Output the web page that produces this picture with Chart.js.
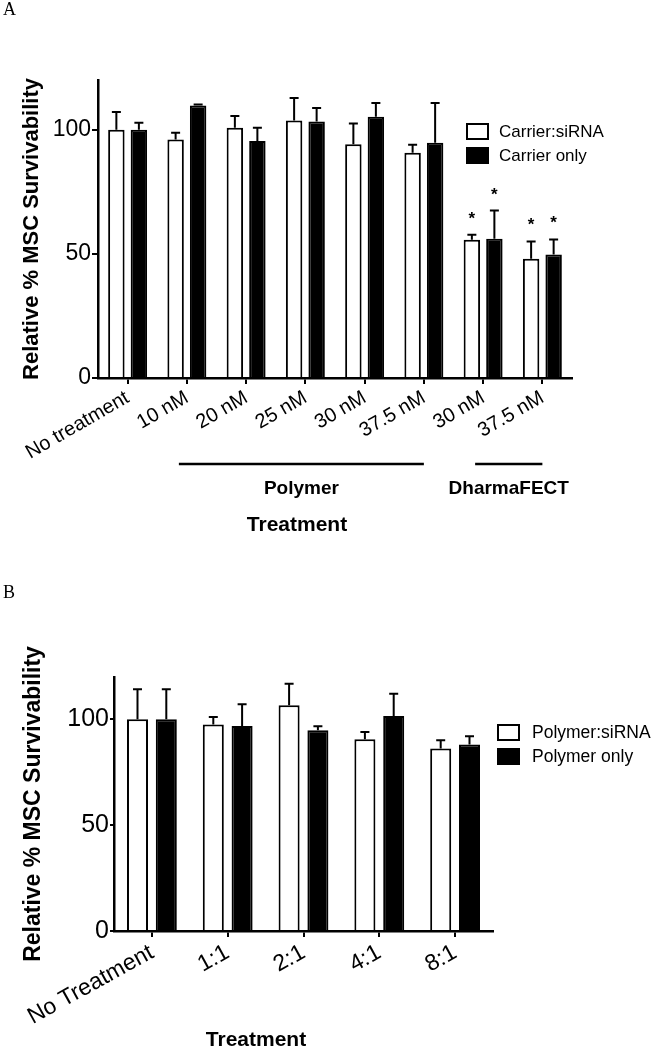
<!DOCTYPE html>
<html><head><meta charset="utf-8">
<script src="https://cdn.jsdelivr.net/npm/chart.js@4.4.1/dist/chart.umd.min.js"></script>
<style>
html,body{margin:0;padding:0;background:#fff;width:651px;height:1050px;overflow:hidden;}
#wrapA{position:absolute;left:0;top:0;width:651px;height:545px;}
#wrapB{position:absolute;left:0;top:560px;width:651px;height:490px;}
canvas{display:block;}
</style></head><body>
<div id="wrapA"><canvas id="cA" width="651" height="545"></canvas></div>
<div id="wrapB"><canvas id="cB" width="651" height="490"></canvas></div>
<script>
// ---------- Panel A data ----------
const categoriesA = ['No treatment','10 nM','20 nM','25 nM','30 nM','37.5 nM','30 nM','37.5 nM'];
const seriesNamesA = ['Carrier:siRNA','Carrier only'];
const carrierSiRNAMeanA = [100, 96, 100.8, 103.7, 94.1, 90.7, 55.7, 48];
const carrierSiRNASdA   = [7.1, 2.8, 4.7, 9.1, 8.4, 3.2, 2.0, 7.0];
const carrierOnlyMeanA  = [100, 109.7, 95.4, 103.3, 105.2, 94.7, 56.1, 49.7];
const carrierOnlySdA    = [2.8, 0.4, 5.4, 5.4, 5.5, 16.0, 11.3, 6.1];
const carrierSiRNAStarA = [0,0,0,0,0,0,1,1];
const carrierOnlyStarA  = [0,0,0,0,0,0,1,1];
const groupNamesA = ['Polymer','DharmaFECT'];
const groupStartA = [1, 6];
const groupEndA   = [5, 7];
const yTicksA = [0, 50, 100];

// ---------- Panel B data ----------
const categoriesB = ['No Treatment','1:1','2:1','4:1','8:1'];
const seriesNamesB = ['Polymer:siRNA','Polymer only'];
const polymerSiRNAMeanB = [100, 97.6, 106.6, 90.6, 86.2];
const polymerSiRNASdB   = [14.2, 3.5, 10.2, 3.4, 3.9];
const polymerOnlyMeanB  = [100, 96.8, 94.8, 101.6, 88.1];
const polymerOnlySdB    = [14.2, 10.3, 1.9, 10.5, 3.9];
const yTicksB = [0, 50, 100];

const FONT = "'Liberation Sans', Arial, Helvetica, sans-serif";

const decor = {
  id: 'decor',
  afterDatasetsDraw(chart, args, opts) {
    const ctx = chart.ctx;
    const ys = chart.scales.y;
    ctx.save();
    ctx.strokeStyle = '#000';
    ctx.fillStyle = '#000';
    ctx.lineWidth = 2;
    chart.data.datasets.forEach((ds, i) => {
      const meta = chart.getDatasetMeta(i);
      meta.data.forEach((el, j) => {
        const top = ys.getPixelForValue(ds.data[j] + ds.sd[j]);
        const base = ys.getPixelForValue(ds.data[j]);
        ctx.beginPath();
        ctx.moveTo(el.x, base);
        ctx.lineTo(el.x, top);
        ctx.moveTo(el.x - 4.5, top);
        ctx.lineTo(el.x + 4.5, top);
        ctx.stroke();
        if (ds.stars && ds.stars[j]) {
          ctx.font = 'bold 17px ' + FONT;
          ctx.textAlign = 'center';
          ctx.textBaseline = 'alphabetic';
          ctx.fillText('*', el.x, top - 11);
        }
      });
    });
    ctx.restore();
  },
  afterDraw(chart, args, opts) {
    const ctx = chart.ctx;
    const xs = chart.scales.x;
    ctx.save();
    ctx.fillStyle = '#000';
    ctx.strokeStyle = '#000';
    ctx.font = "18px 'Liberation Serif', 'Times New Roman', serif";
    ctx.textAlign = 'left';
    ctx.textBaseline = 'alphabetic';
    ctx.fillText(opts.letter, 3, opts.letterY);
    chart.data.datasets.forEach((ds, i) => {
      const bx = opts.legendX, by = opts.legendY + i * opts.legendGap;
      ctx.fillStyle = ds.backgroundColor;
      ctx.fillRect(bx, by, 23, 17);
      ctx.lineWidth = 2;
      ctx.strokeStyle = '#000';
      ctx.strokeRect(bx + 1, by + 1, 21, 15);
      ctx.fillStyle = '#000';
      ctx.font = opts.legendFont + 'px ' + FONT;
      ctx.textAlign = 'left';
      ctx.textBaseline = 'middle';
      ctx.fillText(ds.label, opts.legendTextX, by + 9);
    });
    if (opts.groups) {
      opts.groups.names.forEach((name, k) => {
        const x1 = xs.getPixelForValue(opts.groups.start[k]) - 8;
        const x2 = xs.getPixelForValue(opts.groups.end[k]);
        ctx.lineWidth = 2.5;
        ctx.beginPath();
        ctx.moveTo(x1, opts.groups.lineY);
        ctx.lineTo(x2, opts.groups.lineY);
        ctx.stroke();
        ctx.font = 'bold 19px ' + FONT;
        ctx.textAlign = 'center';
        ctx.textBaseline = 'middle';
        ctx.fillText(name, (x1 + x2) / 2, opts.groups.labelY);
      });
    }
    ctx.font = 'bold 21px ' + FONT;
    ctx.textAlign = 'center';
    ctx.textBaseline = 'middle';
    ctx.fillText('Treatment', opts.xTitleX, opts.xTitleY);
    ctx.restore();
  }
};

function makeChart(id, cfg) {
  return new Chart(document.getElementById(id), {
    type: 'bar',
    data: {
      labels: cfg.labels,
      datasets: [
        { label: cfg.names[0], data: cfg.m1, sd: cfg.s1, stars: cfg.st1,
          backgroundColor: '#ffffff', borderColor: '#000000', borderWidth: 2 },
        { label: cfg.names[1], data: cfg.m2, sd: cfg.s2, stars: cfg.st2,
          backgroundColor: '#000000', borderColor: '#000000', borderWidth: 2 }
      ]
    },
    options: {
      responsive: false,
      animation: false,
      events: [],
      categoryPercentage: 0.76,
      barPercentage: 0.73,
      layout: { padding: cfg.padding },
      plugins: { legend: { display: false }, tooltip: { enabled: false }, decor: cfg.decor },
      scales: {
        x: {
          offset: true,
          grid: { offset: false, drawOnChartArea: false, drawTicks: true, tickLength: 6, color: '#000', lineWidth: 2 },
          border: { display: true, color: '#000', width: 2.5 },
          ticks: { color: '#000', font: { family: FONT, size: cfg.xFont }, minRotation: cfg.xRot, maxRotation: cfg.xRot, autoSkip: false, padding: 2 },
          afterFit: s => { s.height = cfg.xHeight; }
        },
        y: {
          min: 0, max: 120,
          afterBuildTicks: s => { s.ticks = cfg.yTicks.map(v => ({ value: v })); },
          grid: { drawOnChartArea: false, drawTicks: true, tickLength: cfg.yTickLen, color: '#000', lineWidth: 2 },
          border: { display: true, color: '#000', width: 2.5 },
          ticks: { color: '#000', font: { family: FONT, size: cfg.yFont }, padding: 1 },
          title: { display: true, text: 'Relative % MSC Survivability', color: '#000',
                   font: { family: FONT, size: cfg.yTitleFont, weight: 'bold' }, padding: { top: cfg.yTitlePad, bottom: 0 } },
          afterFit: s => { s.width = cfg.yWidth; }
        }
      }
    },
    plugins: [decor]
  });
}

makeChart('cA', {
  labels: categoriesA, names: seriesNamesA,
  m1: carrierSiRNAMeanA, s1: carrierSiRNASdA, st1: carrierSiRNAStarA,
  m2: carrierOnlyMeanA, s2: carrierOnlySdA, st2: carrierOnlyStarA,
  yTicks: yTicksA,
  padding: { left: 0, top: 80, right: 79, bottom: 0 },
  xHeight: 167, yWidth: 98, xFont: 20, xRot: 30, yFont: 23, yTickLen: 6, yTitleFont: 22, yTitlePad: 19,
  decor: {
    letter: 'A', letterY: 15,
    legendX: 466, legendY: 123, legendGap: 24, legendTextX: 499, legendFont: 17,
    groups: { names: groupNamesA, start: groupStartA, end: groupEndA, lineY: 464, labelY: 489 },
    xTitleX: 297, xTitleY: 525
  }
});

makeChart('cB', {
  labels: categoriesB, names: seriesNamesB,
  m1: polymerSiRNAMeanB, s1: polymerSiRNASdB, st1: null,
  m2: polymerOnlyMeanB, s2: polymerOnlySdB, st2: null,
  yTicks: yTicksB,
  padding: { left: 0, top: 117, right: 158, bottom: 0 },
  xHeight: 119, yWidth: 114, xFont: 23, xRot: 29, yFont: 25, yTickLen: 4, yTitleFont: 23, yTitlePad: 20,
  decor: {
    letter: 'B', letterY: 38,
    legendX: 497, legendY: 164, legendGap: 24, legendTextX: 532, legendFont: 17.5,
    groups: null,
    xTitleX: 256, xTitleY: 480
  }
});
</script>
</body></html>
